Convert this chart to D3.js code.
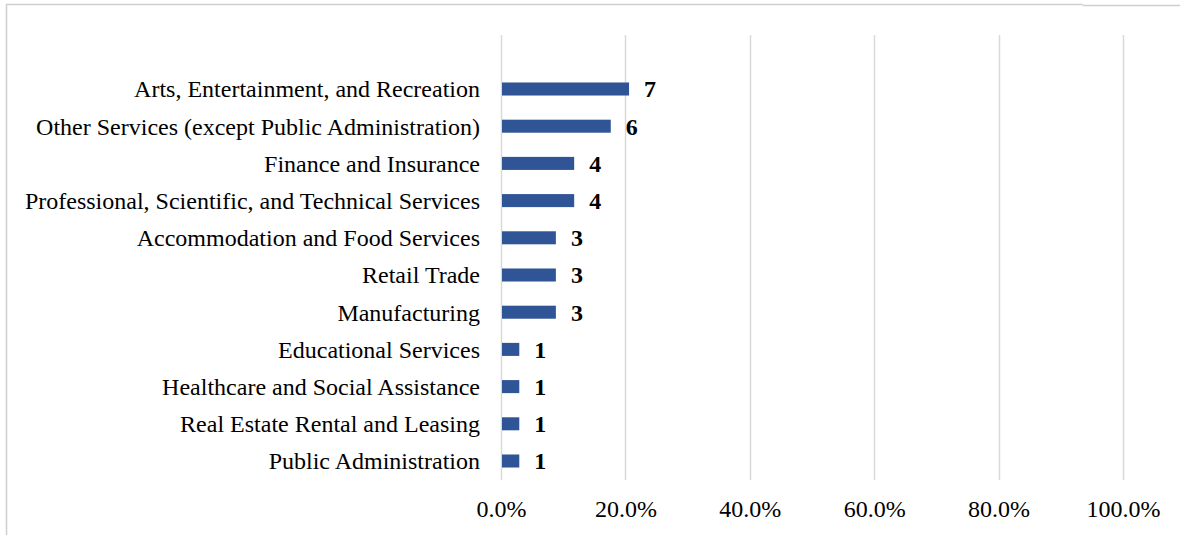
<!DOCTYPE html>
<html>
<head>
<meta charset="utf-8">
<script src="https://cdn.jsdelivr.net/npm/d3@7"></script>
<style>
  html, body { margin: 0; padding: 0; background: #fff; }
  svg { display: block; }
</style>
</head>
<body>
<svg id="chart" width="1188" height="535"></svg>
<script>
// Industry categories, top to bottom
const categories = [
  "Arts, Entertainment, and Recreation",
  "Other Services (except Public Administration)",
  "Finance and Insurance",
  "Professional, Scientific, and Technical Services",
  "Accommodation and Food Services",
  "Retail Trade",
  "Manufacturing",
  "Educational Services",
  "Healthcare and Social Assistance",
  "Real Estate Rental and Leasing",
  "Public Administration"
];
// Number of businesses per category
const counts = [7, 6, 4, 4, 3, 3, 3, 1, 1, 1, 1];
// Axis tick values (share of total)
const ticks = [0, 0.2, 0.4, 0.6, 0.8, 1.0];

const total = d3.sum(counts);
const shares = counts.map(c => c / total);

const svg = d3.select("#chart");
const font = "'Liberation Serif', 'Times New Roman', serif";

// Outer frame
svg.append("line").attr("x1", 6.5).attr("x2", 6.5).attr("y1", 4.5).attr("y2", 535)
  .attr("stroke", "#cfcfcf").attr("stroke-width", 1.5);
svg.append("line").attr("x1", 6).attr("x2", 1083).attr("y1", 4.5).attr("y2", 4.5)
  .attr("stroke", "#cfcfcf").attr("stroke-width", 1.5);
svg.append("line").attr("x1", 1083).attr("x2", 1180).attr("y1", 5.5).attr("y2", 5.5)
  .attr("stroke", "#cfcfcf").attr("stroke-width", 1.5);

const x = d3.scaleLinear().domain([0, 1]).range([501, 1123]);
const y = d3.scaleBand().domain(categories).range([70.4, 479.6]).paddingInner(0.65).paddingOuter(0.325);

// Vertical gridlines
svg.append("g").selectAll("line").data(ticks).join("line")
  .attr("x1", d => Math.round(x(d)) + 0.5)
  .attr("x2", d => Math.round(x(d)) + 0.5)
  .attr("y1", 35).attr("y2", 480)
  .attr("stroke", "#d9d9d9").attr("stroke-width", 1.5);

// Bars
svg.append("g").selectAll("rect").data(categories).join("rect")
  .attr("x", x(0) + 1)
  .attr("y", d => y(d))
  .attr("width", (d, i) => x(shares[i]) - x(0) - 1)
  .attr("height", y.bandwidth())
  .attr("fill", "#2f5597");

// Value labels
svg.append("g").selectAll("text").data(categories).join("text")
  .attr("x", (d, i) => x(shares[i]) + 15)
  .attr("y", d => y(d) + y.bandwidth() / 2)
  .attr("dy", "0.35em")
  .attr("font-family", font).attr("font-size", 24).attr("font-weight", "bold")
  .attr("fill", "#000")
  .text((d, i) => counts[i]);

// Category axis labels
svg.append("g").selectAll("text").data(categories).join("text")
  .attr("x", 480)
  .attr("y", d => y(d) + y.bandwidth() / 2)
  .attr("dy", "0.35em")
  .attr("text-anchor", "end")
  .attr("font-family", font).attr("font-size", 24)
  .attr("fill", "#000")
  .text(d => d);

// Percentage axis
const xAxis = d3.axisBottom(x).tickValues(ticks).tickFormat(d3.format(".1%")).tickSize(0).tickPadding(0);
const ax = svg.append("g").attr("transform", "translate(0,517)").call(xAxis);
ax.select(".domain").remove();
ax.selectAll("text")
  .attr("font-family", font).attr("font-size", 24).attr("fill", "#000")
  .attr("y", 0).attr("dy", 0);
</script>
</body>
</html>
